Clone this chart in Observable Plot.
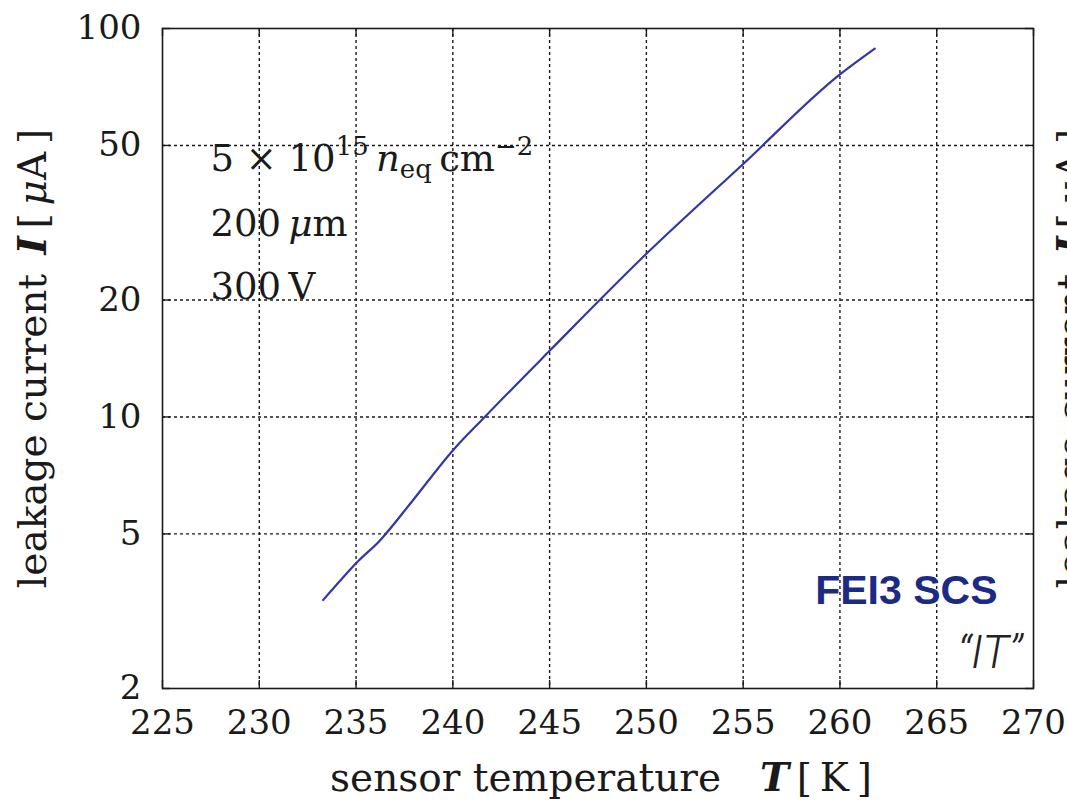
<!DOCTYPE html>
<html>
<head>
<meta charset="utf-8">
<script src="https://cdn.jsdelivr.net/npm/d3@7"></script>
<script src="https://cdn.jsdelivr.net/npm/@observablehq/plot@0.6"></script>
<style>
  html, body { margin: 0; padding: 0; background: #fff; }
</style>
</head>
<body>
<div id="chart"></div>
<script>
// Leakage current of an irradiated FEI3 SCS sensor versus sensor temperature
const temperature = [233.3, 234.2, 235.1, 236.2, 237.9, 240.0, 241.65, 245.0, 250.0, 255.0, 260.0, 261.8];
const current     = [3.38, 3.80, 4.25, 4.79, 6.07, 8.2, 10.0, 14.8, 26.3, 44.8, 76.2, 88.8];

const xTicks = [225, 230, 235, 240, 245, 250, 255, 260, 265, 270];
const yTicks = [2, 5, 10, 20, 50, 100];

// Rich text pieces: [string, kind] with kind in it | bi | sup | sub
const yLabelParts = [["leakage current\u2002"], ["I", "bi"], ["\u2009[\u2009"], ["μ", "it"], ["A\u2009]"]];
const xLabelParts = [["sensor temperature\u2003"], ["T", "bi"], ["\u2009[\u2009K\u2009]"]];
const fluenceParts = [["5 × 10"], ["15", "sup"], ["\u2009"], ["n", "it"], ["eq", "sub"], ["\u2009cm"], ["−2", "sup"]];
const thicknessParts = [["200\u2009"], ["μ", "it"], ["m"]];
const biasParts = [["300\u2009V"]];

const plain = parts => parts.map(p => p[0]).join("");

const series = temperature.map((t, i) => ({T: t, I: current[i]}));

const serif = "DejaVu Serif, Liberation Serif, serif";
const ink = "#1a1a1a";
const labelSize = 39;
const noteSize = 37;
const tickSize = 34;

const plot = Plot.plot({
  width: 1067,
  height: 803,
  marginLeft: 162,
  marginRight: 34,
  marginTop: 28,
  marginBottom: 115,
  style: {fontFamily: serif, fontSize: `${tickSize}px`, color: ink, background: "#fff"},
  x: {type: "linear", domain: [225, 270]},
  y: {type: "log", domain: [2, 100]},
  marks: [
    // dotted grid
    Plot.gridX(xTicks.slice(1, -1), {stroke: ink, strokeOpacity: 1, strokeWidth: 1.4, strokeDasharray: "3,3"}),
    Plot.gridY(yTicks.slice(1, -1), {stroke: ink, strokeOpacity: 1, strokeWidth: 1.4, strokeDasharray: "3,3"}),
    // inward ticks on all four sides
    Plot.ruleX(xTicks, {stroke: ink, strokeWidth: 1.4, insetTop: 652}),
    Plot.ruleX(xTicks, {stroke: ink, strokeWidth: 1.4, insetBottom: 652}),
    Plot.ruleY(yTicks, {stroke: ink, strokeWidth: 1.4, insetRight: 863}),
    Plot.ruleY(yTicks, {stroke: ink, strokeWidth: 1.4, insetLeft: 863}),
    Plot.frame({stroke: ink, strokeWidth: 1.6}),
    Plot.axisX(xTicks, {tickSize: 0, tickPadding: 21, label: null, fontSize: tickSize, tickFormat: d => String(d)}),
    Plot.axisY(yTicks, {tickSize: 0, tickPadding: 21, label: null, fontSize: tickSize, tickFormat: d => String(d)}),
    // measured curve
    Plot.line(series, {x: "T", y: "I", stroke: "#3535a8", strokeWidth: 2.2, curve: "monotone-x"}),
    // axis titles
    Plot.text([plain(yLabelParts)], {text: d => d, frameAnchor: "left", dx: -129, rotate: -90,
      textAnchor: "middle", lineAnchor: "middle", fontSize: labelSize, fill: ink}),
    Plot.text([plain(xLabelParts)], {text: d => d, frameAnchor: "bottom", dy: 90, dx: 3,
      textAnchor: "middle", lineAnchor: "middle", fontSize: labelSize, fill: ink}),
    // title of the neighbouring panel, cut off at the right edge
    Plot.text([plain(yLabelParts)], {text: d => d, frameAnchor: "right", dx: 39, rotate: -90,
      textAnchor: "middle", lineAnchor: "middle", fontSize: labelSize, fill: ink}),
    // sample parameters
    Plot.text([plain(fluenceParts)], {text: d => d, frameAnchor: "top-left", dx: 48, dy: 142, textAnchor: "start", lineAnchor: "bottom", fontSize: noteSize, fill: ink}),
    Plot.text([plain(thicknessParts)], {text: d => d, frameAnchor: "top-left", dx: 48, dy: 207, textAnchor: "start", lineAnchor: "bottom", fontSize: noteSize, fill: ink}),
    Plot.text([plain(biasParts)], {text: d => d, frameAnchor: "top-left", dx: 48, dy: 270, textAnchor: "start", lineAnchor: "bottom", fontSize: noteSize, fill: ink}),
    // module tag
    Plot.text(["FEI3 SCS"], {text: d => d, frameAnchor: "bottom-right", dx: -36, dy: -85, textAnchor: "end", lineAnchor: "bottom",
      fontSize: 41, fontWeight: "bold", fontFamily: "Liberation Sans, Arial, sans-serif", fill: "#1c2a85"}),
    Plot.text(["\u201CIT\u201D"], {text: d => d, frameAnchor: "bottom-right", dx: -11, dy: -21, textAnchor: "end", lineAnchor: "bottom",
      fontSize: 46, fontStyle: "italic", fontWeight: 300, fontFamily: "Roboto, Liberation Sans, sans-serif", fill: "#222"})
  ]
});

// Replace plain strings with italic / sub- / superscript spans
const richSpecs = [
  [yLabelParts, labelSize], [xLabelParts, labelSize], [fluenceParts, noteSize], [thicknessParts, noteSize], [biasParts, noteSize]
];
const SVGNS = "http://www.w3.org/2000/svg";
plot.querySelectorAll("text").forEach(el => {
  const spec = richSpecs.find(([parts]) => plain(parts) === el.textContent);
  if (!spec) return;
  const [parts, fs] = spec;
  el.textContent = "";
  let shift = 0;
  for (const [s, kind] of parts) {
    const ts = document.createElementNS(SVGNS, "tspan");
    let target = 0;
    if (kind === "sup") { target = -0.42 * fs; ts.setAttribute("font-size", 0.7 * fs); }
    if (kind === "sub") { target = 0.2 * fs; ts.setAttribute("font-size", 0.7 * fs); }
    if (kind === "it" || kind === "bi") ts.setAttribute("font-style", "italic");
    if (kind === "bi") ts.setAttribute("font-weight", "bold");
    if (target - shift !== 0) ts.setAttribute("dy", target - shift);
    shift = target;
    ts.textContent = s;
    el.appendChild(ts);
  }
});

document.getElementById("chart").appendChild(plot);
</script>
</body>
</html>
